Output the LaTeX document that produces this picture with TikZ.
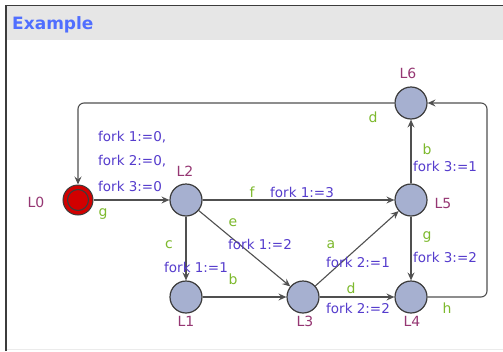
\documentclass[tikz,border=0pt]{standalone}
\usepackage{fontspec}
\setmainfont{DejaVu Sans}
\usetikzlibrary{arrows.meta}
\definecolor{locfill}{RGB}{166,176,208}
\definecolor{locdraw}{RGB}{60,60,60}
\definecolor{edgecol}{RGB}{80,80,80}
\definecolor{namecol}{RGB}{150,55,115}
\definecolor{synccol}{RGB}{125,185,45}
\definecolor{updcol}{RGB}{85,60,205}
\definecolor{titlecol}{RGB}{80,110,255}
\definecolor{headcol}{RGB}{230,230,230}
\definecolor{initcol}{RGB}{210,0,0}
\tikzset{
  loc/.style={circle, minimum size=32pt, inner sep=0pt, fill=locfill, draw=locdraw, line width=1.2pt},
  initloc/.style={circle, minimum size=30pt, inner sep=0pt, fill=initcol, draw=locdraw, line width=1pt},
  edge/.style={draw=edgecol, line width=1.1pt, -{Stealth[length=8pt,width=7pt,inset=3pt]}, rounded corners=6pt},
  lname/.style={text=namecol, font=\fontsize{14}{16}\selectfont, inner sep=0pt},
  lsync/.style={text=synccol, font=\fontsize{14}{16}\selectfont, inner sep=0pt},
  lupd/.style={text=updcol, font=\fontsize{13.5}{16}\selectfont, inner sep=0pt},
}
\begin{document}
\begin{tikzpicture}[x=1pt,y=-1pt]
\useasboundingbox (0,0) rectangle (503,351);
\fill[white] (0,0) rectangle (503,351);
% frame
\fill[headcol] (6,6) rectangle (503,40);
\draw[locdraw, line width=1.6pt] (6,351) -- (6,5.5) -- (503,5.5);
\draw[black!8, line width=1pt] (7,349.5) -- (503,349.5);
\node[anchor=base west, text=titlecol, font=\bfseries\fontsize{17}{20}\selectfont, inner sep=0pt] (title) at (12,29) {Example};
% locations
\node[initloc] (L0) at (78,200) {};
\draw[locdraw, line width=1.1pt] (L0.center) circle (10.5pt);
\node[loc] (L2) at (186,200) {};
\node[loc] (L6) at (411,103) {};
\node[loc] (L5) at (411,200) {};
\node[loc] (L1) at (186,297) {};
\node[loc] (L3) at (303,297) {};
\node[loc] (L4) at (411,297) {};
% names
\node[lname] (nL0) at (36,202) {L0};
\node[lname] (nL2) at (185,171) {L2};
\node[lname] (nL6) at (408,73) {L6};
\node[lname] (nL5) at (443,203) {L5};
\node[lname] (nL1) at (186,321) {L1};
\node[lname] (nL3) at (305,321) {L3};
\node[lname] (nL4) at (412,321) {L4};
% corner coordinates
\coordinate (c1) at (487,297);
\coordinate (c2) at (487,103);
\coordinate (c3) at (78,103);
% edges
\draw[edge] (L0) -- (L2);
\draw[edge] (L2) -- (L5);
\draw[edge] (L2) -- (L3);
\draw[edge] (L2) -- (L1);
\draw[edge] (L1) -- (L3);
\draw[edge] (L3) -- (L5);
\draw[edge] (L3) -- (L4);
\draw[edge] (L5) -- (L6);
\draw[edge] (L5) -- (L4);
\draw[edge] (L4.east) -- (c1) -- (c2) -- (L6.east);
\draw[edge] (L6.west) -- (c3) -- (L0.north);
% edge labels
\node[lupd, anchor=west] (u1) at (98,137) {fork 1:=0,};
\node[lupd, anchor=west] (u2) at (98,161) {fork 2:=0,};
\node[lupd, anchor=west] (u3) at (98,186) {fork 3:=0};
\node[lsync] (s1) at (103,214) {g};
\node[lsync] (s2) at (252,192) {f};
\node[lupd, anchor=west] (u4) at (270,192) {fork 1:=3};
\node[lsync] (s3) at (233,223) {e};
\node[lupd, anchor=west] (u5) at (228,244) {fork 1:=2};
\node[lsync] (s4) at (169,245) {c};
\node[lupd, anchor=west] (u6) at (164,267) {fork 1:=1};
\node[lsync] (s5) at (233,279) {b};
\node[lsync] (s6) at (331,245) {a};
\node[lupd, anchor=west] (u7) at (326,262) {fork 2:=1};
\node[lsync] (s7) at (351,288) {d};
\node[lupd, anchor=west] (u8) at (326,308) {fork 2:=2};
\node[lsync] (s8) at (447,308) {h};
\node[lsync] (s9) at (427,237) {g};
\node[lupd, anchor=west] (u9) at (413,257) {fork 3:=2};
\node[lsync] (s10) at (427,149) {b};
\node[lupd, anchor=west] (u10) at (413,166) {fork 3:=1};
\node[lsync] (s11) at (373,117) {d};
\end{tikzpicture}
\end{document}
